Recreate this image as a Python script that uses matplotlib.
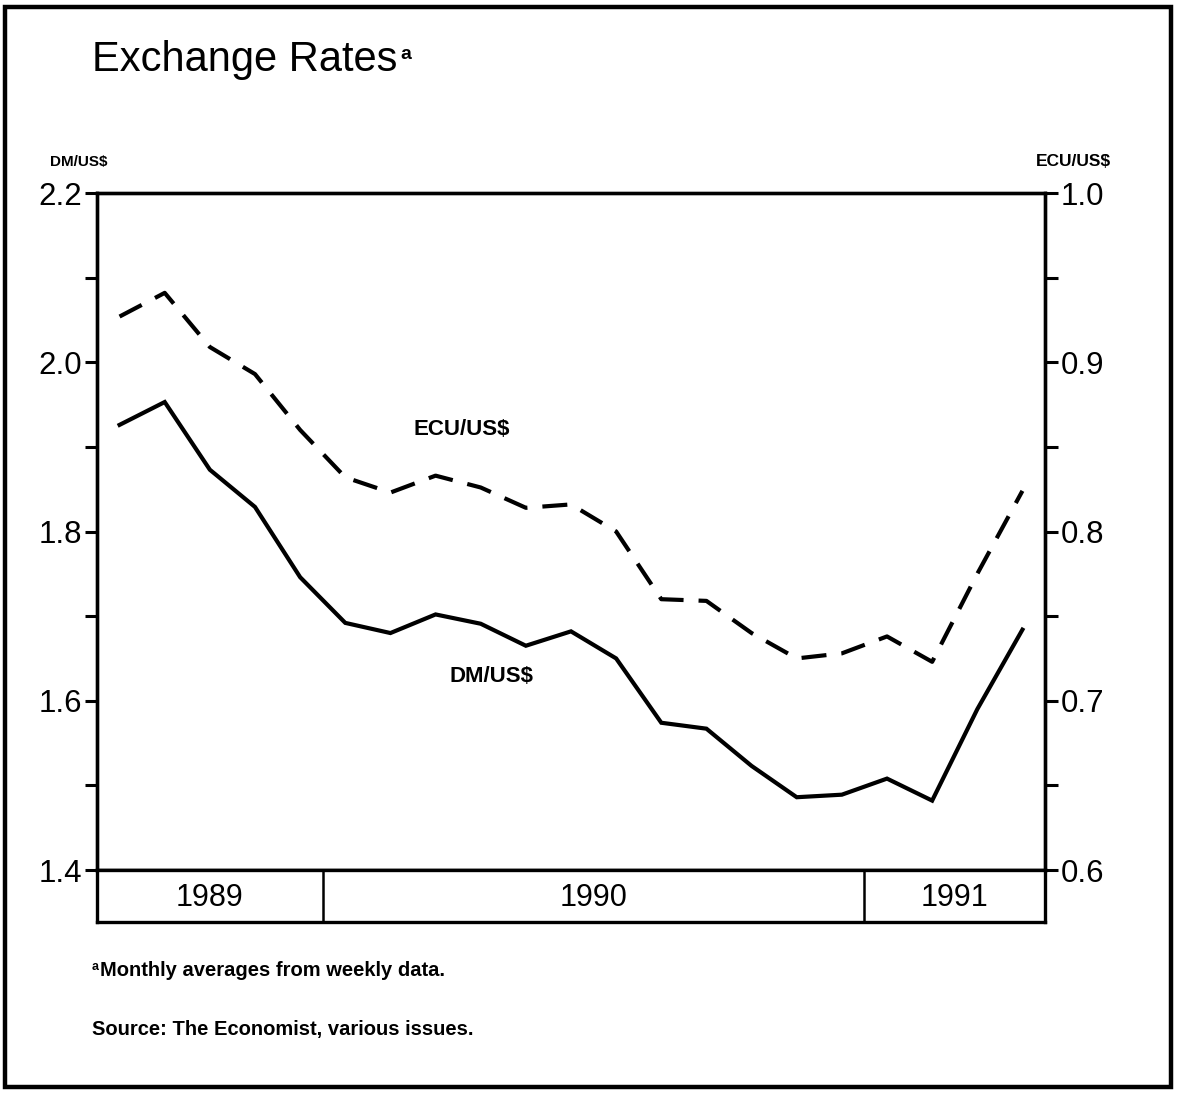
import matplotlib
matplotlib.use('Agg')
import matplotlib.pyplot as plt
import numpy as np
from matplotlib.patches import Rectangle

plt.rcParams['font.family'] = ['Liberation Sans', 'DejaVu Sans']

# monthly averages, Aug 1989 - Apr 1991
months = ['Aug 89', 'Sep 89', 'Oct 89', 'Nov 89', 'Dec 89',
          'Jan 90', 'Feb 90', 'Mar 90', 'Apr 90', 'May 90', 'Jun 90',
          'Jul 90', 'Aug 90', 'Sep 90', 'Oct 90', 'Nov 90', 'Dec 90',
          'Jan 91', 'Feb 91', 'Mar 91', 'Apr 91']
dm_usd = [1.926, 1.953, 1.873, 1.829, 1.746, 1.692, 1.680, 1.702, 1.691,
          1.665, 1.682, 1.650, 1.574, 1.567, 1.523, 1.486, 1.489, 1.508,
          1.482, 1.590, 1.684]
ecu_usd = [0.927, 0.941, 0.909, 0.893, 0.860, 0.832, 0.823, 0.833, 0.826,
           0.814, 0.816, 0.800, 0.760, 0.759, 0.740, 0.725, 0.728, 0.738,
           0.723, 0.775, 0.824]
years = ['1989', '1990', '1991']
months_per_year = [5, 12, 4]

W, H = 1179, 1094
fig = plt.figure(figsize=(W / 100, H / 100), dpi=100)

# outer frame
fig.patches.append(Rectangle((5 / W, 7 / H), 1166 / W, 1080 / H, transform=fig.transFigure,
                             fill=False, lw=3.2, ec='black'))

left, right, top, bottom = 97, 1045, 193, 870
ax = fig.add_axes([left / W, 1 - bottom / H, (right - left) / W, (bottom - top) / H])
ax2 = ax.twinx()

x = np.arange(len(months))
ax.plot(x, dm_usd, color='black', lw=3.0, solid_joinstyle='miter')
ax2.plot(x, ecu_usd, color='black', lw=3.0, dashes=(6, 3.6))

ax.set_xlim(-0.5, len(months) - 0.5)
ax.set_ylim(1.4, 2.2)
ax2.set_ylim(0.6, 1.0)
ax.set_xticks([])

ax.set_yticks(np.arange(1.4, 2.21, 0.2))
ax.set_yticks(np.arange(1.5, 2.2, 0.2), minor=True)
ax.set_yticklabels([f'{v:.1f}' for v in np.arange(1.4, 2.21, 0.2)])
ax2.set_yticks(np.arange(0.6, 1.01, 0.1))
ax2.set_yticks(np.arange(0.65, 1.0, 0.1), minor=True)
ax2.set_yticklabels([f'{v:.1f}' for v in np.arange(0.6, 1.01, 0.1)])

for a in (ax, ax2):
    for s in a.spines.values():
        s.set_linewidth(2.4)
    a.tick_params(which='both', length=9, width=2.2, direction='out', labelsize=22.5, pad=2)

ax.text(-0.019, 1.035, 'DM/US$', transform=ax.transAxes, ha='center', va='bottom',
        fontsize=11, fontweight='bold')
ax2.text(1.0295, 1.035, 'ECU/US$', transform=ax.transAxes, ha='center', va='bottom',
         fontsize=12.5, fontweight='bold')

ax.text(7.59, 1.920, 'ECU/US$', ha='center', va='center', fontsize=16, fontweight='bold')
ax.text(8.25, 1.629, 'DM/US$', ha='center', va='center', fontsize=16, fontweight='bold')

# year band under the plot
band = fig.add_axes([left / W, 1 - 922 / H, (right - left) / W, 52 / H])
band.set_xlim(-0.5, len(months) - 0.5)
band.set_ylim(0, 1)
band.set_xticks([])
band.set_yticks([])
for s in band.spines.values():
    s.set_linewidth(2.4)
edges = np.cumsum([0] + months_per_year) - 0.5
for e in edges[1:-1]:
    band.axvline(e, color='black', lw=1.8)
for yr, a0, a1 in zip(years, edges[:-1], edges[1:]):
    band.text((a0 + a1) / 2, 0.46, yr, ha='center', va='center', fontsize=22)

# title with superscript note marker
title = fig.text(92 / W, 1 - 60 / H, 'Exchange Rates', ha='left', va='center', fontsize=30)
ax.annotate('a', xy=(1, 1), xycoords=title, xytext=(2, -4), textcoords='offset points',
            ha='left', va='top', fontsize=14, fontweight='bold', annotation_clip=False)

# notes
note = fig.text(100 / W, 1 - 970 / H, 'Monthly averages from weekly data.', ha='left',
                va='center', fontsize=14.5, fontweight='bold')
ax.annotate('a', xy=(0, 1), xycoords=note, xytext=(-1, 0), textcoords='offset points',
            ha='right', va='top', fontsize=9, fontweight='bold', annotation_clip=False)
fig.text(92 / W, 1 - 1030 / H, 'Source: The Economist, various issues.', ha='left', va='center',
         fontsize=14.5, fontweight='bold')

fig.savefig('out.png', dpi=100)
